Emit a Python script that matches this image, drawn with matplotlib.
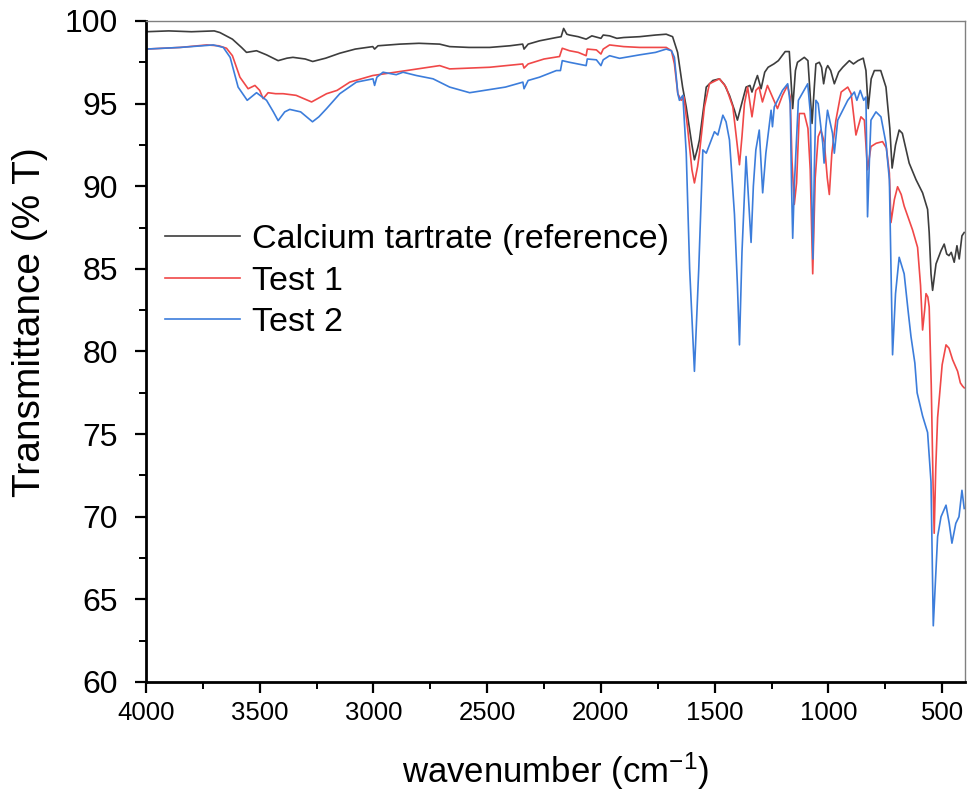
import matplotlib
matplotlib.use('Agg')
import matplotlib.pyplot as plt
from matplotlib.ticker import MultipleLocator

# calcium tartrate reference spectrum
wn_ref = [4000, 3900, 3800, 3700, 3675, 3620, 3580, 3558, 3514, 3470, 3419, 3380, 3354, 3300,
          3267, 3210, 3148, 3080, 3003, 2995, 2980, 2884, 2800, 2709, 2665, 2580, 2489, 2400,
          2344, 2338, 2320, 2270, 2196, 2175, 2164, 2150, 2138, 2100, 2065, 2040, 2000, 1990,
          1962, 1930, 1900, 1830, 1760, 1713, 1685, 1663, 1641, 1625, 1600, 1589, 1575, 1567,
          1537, 1508, 1479, 1457, 1435, 1413, 1400, 1385, 1362, 1345, 1336, 1320, 1312, 1296,
          1280, 1265, 1240, 1220, 1190, 1172, 1157, 1145, 1136, 1106, 1090, 1072, 1062, 1055,
          1040, 1030, 1021, 1010, 1003, 990, 974, 955, 937, 908, 890, 870, 847, 835, 825, 812,
          798, 770, 747, 730, 720, 705, 689, 675, 660, 645, 615, 586, 564, 557, 549, 542, 527,
          505, 491, 480, 470, 460, 447, 435, 425, 413, 403]
t_ref = [99.35, 99.4, 99.35, 99.4, 99.3, 98.9, 98.4, 98.1, 98.2, 97.95, 97.6, 97.75, 97.8, 97.7,
         97.55, 97.75, 98.05, 98.3, 98.45, 98.3, 98.5, 98.6, 98.65, 98.6, 98.45, 98.4, 98.4, 98.5,
         98.6, 98.3, 98.6, 98.8, 99.0, 99.05, 99.55, 99.2, 99.15, 99.05, 98.9, 99.1, 98.95, 99.15,
         99.1, 98.95, 99.0, 99.05, 99.15, 99.2, 99.05, 98.1, 96.0, 94.8, 92.5, 91.6, 92.3, 92.8,
         96.0, 96.4, 96.5, 96.15, 95.5, 94.6, 94.0, 94.8, 96.0, 96.1, 95.7, 96.4, 96.7, 95.9,
         96.9, 97.2, 97.4, 97.6, 98.15, 98.15, 94.7, 97.0, 97.5, 97.8, 97.6, 93.8, 96.0, 97.4,
         97.5, 97.2, 96.2, 97.1, 97.3, 97.0, 96.2, 96.9, 97.2, 97.6, 97.4, 97.6, 97.75, 97.0, 94.7, 96.5,
         97.0, 97.0, 96.0, 93.5, 91.1, 92.5, 93.4, 93.2, 92.3, 91.4, 90.4, 89.6, 88.6, 87.2, 84.7, 83.7, 85.3,
         86.1, 86.5, 85.9, 85.8, 86.0, 85.4, 86.4, 85.6, 87.0, 87.2]

# test 1
wn_t1 = [4000, 3850, 3733, 3680, 3646, 3620, 3587, 3551, 3521, 3500, 3485, 3463, 3430, 3397,
         3340, 3272, 3206, 3160, 3104, 3003, 2855, 2709, 2665, 2489, 2344, 2338, 2320, 2250,
         2182, 2170, 2138, 2100, 2065, 2060, 2020, 2000, 1990, 1962, 1900, 1830, 1713, 1690,
         1677, 1662, 1647, 1635, 1618, 1600, 1589, 1575, 1567, 1545, 1523, 1494, 1479, 1450,
         1420, 1391, 1380, 1369, 1355, 1336, 1319, 1305, 1290, 1268, 1246, 1224, 1202, 1180,
         1168, 1160, 1150, 1140, 1128, 1106, 1090, 1080, 1069, 1058, 1045, 1033, 1018, 1005,
         996, 985, 967, 944, 915, 900, 879, 857, 842, 828, 813, 790, 762, 745, 732, 725, 710,
         696, 680, 667, 630, 608, 595, 586, 577, 571, 563, 557, 548, 540, 535, 528, 520, 513,
         500, 483, 470, 454, 432, 420, 410, 403]
t_t1 = [98.3, 98.4, 98.55, 98.5, 98.35, 97.9, 96.6, 95.9, 96.1, 95.8, 95.3, 95.66, 95.6, 95.6,
        95.5, 95.1, 95.6, 95.8, 96.3, 96.7, 97.0, 97.3, 97.1, 97.2, 97.4, 97.15, 97.4, 97.7,
        97.85, 98.35, 98.2, 98.1, 97.9, 98.3, 98.25, 98.0, 98.3, 98.55, 98.45, 98.4, 98.4, 98.2,
        97.4, 95.6, 95.2, 95.4, 93.4, 91.0, 90.2, 91.2, 92.0, 94.8, 96.2, 96.4, 96.5, 96.0,
        94.8, 91.3, 93.0, 95.0, 96.0, 94.2, 95.8, 96.0, 95.1, 96.1, 95.4, 94.7, 95.5, 96.1,
        95.4, 91.5, 88.9, 90.2, 94.4, 94.4, 93.5, 91.0, 84.7, 90.5, 93.0, 93.4, 92.65, 90.5,
        89.5, 92.0, 94.0, 95.7, 96.0, 95.6, 93.1, 94.2, 94.0, 91.0, 92.4, 92.6, 92.7, 92.3, 90.8, 87.8, 89.2,
        89.97, 89.5, 88.8, 87.35, 86.3, 84.0, 81.3, 82.5, 83.5, 83.3, 82.7, 78.0, 72.0, 69.0, 73.0, 76.0, 77.1,
        79.2, 80.4, 80.2, 79.5, 78.8, 78.1, 77.9, 77.8]

# test 2
wn_t2 = [4000, 3850, 3704, 3660, 3630, 3595, 3555, 3514, 3470, 3440, 3419, 3390, 3368, 3320,
         3268, 3240, 3206, 3148, 3075, 3002, 2995, 2985, 2958, 2900, 2870, 2811, 2738, 2665,
         2577, 2489, 2420, 2343, 2338, 2320, 2270, 2196, 2178, 2170, 2138, 2065, 2060, 2020,
         2000, 1990, 1962, 1918, 1830, 1760, 1713, 1690, 1677, 1662, 1655, 1640, 1625, 1610,
         1589, 1570, 1552, 1537, 1501, 1486, 1464, 1450, 1435, 1413, 1400, 1391, 1380, 1362,
         1350, 1340, 1330, 1319, 1304, 1289, 1275, 1252, 1246, 1238, 1202, 1179, 1168, 1162,
         1157, 1150, 1132, 1091, 1080, 1068, 1062, 1055, 1045, 1025, 1019, 1012, 1004, 982,
         974, 959, 930, 915, 886, 875, 860, 845, 835, 828, 820, 813, 791, 769, 747, 732, 718,
         705, 689, 667, 650, 637, 620, 610, 586, 564, 549, 539, 520, 505, 483, 469, 457, 440,
         426, 413, 403]
t_t2 = [98.3, 98.4, 98.55, 98.4, 97.8, 96.0, 95.2, 95.66, 95.2, 94.5, 93.97, 94.5, 94.65, 94.5,
        93.9, 94.2, 94.7, 95.6, 96.3, 96.5, 96.1, 96.6, 96.9, 96.75, 96.9, 96.7, 96.5, 96.0,
        95.66, 95.85, 96.0, 96.3, 95.9, 96.4, 96.6, 97.0, 97.0, 97.6, 97.5, 97.3, 97.7, 97.65,
        97.3, 97.65, 97.9, 97.74, 97.95, 98.1, 98.3, 98.2, 97.8, 95.6, 95.2, 95.5, 92.0, 85.0,
        78.8, 85.0, 92.2, 92.0, 93.3, 93.1, 94.3, 93.9, 92.8, 88.3, 84.0, 80.4, 86.0, 91.8,
        89.0, 86.6, 90.0, 92.2, 93.4, 89.6, 92.0, 94.6, 93.6, 94.8, 95.8, 96.2, 95.0, 90.0,
        86.85, 90.0, 95.2, 96.2, 94.5, 85.6, 91.0, 95.2, 95.0, 92.6, 91.4, 93.5, 94.6, 93.2,
        92.0, 94.0, 94.8, 95.2, 95.7, 95.2, 95.8, 95.2, 95.4, 88.15, 91.5, 94.0, 94.5, 94.2, 92.6, 90.4, 79.8,
        83.5, 85.7, 84.7, 82.5, 80.9, 79.3, 77.5, 76.1, 75.1, 72.1, 63.4, 68.8, 70.0, 70.7, 69.6, 68.4, 69.6,
        70.0, 71.6, 70.5]

labels = ['Calcium tartrate (reference)', 'Test 1', 'Test 2']

plt.rcParams['font.family'] = ['Liberation Sans', 'DejaVu Sans']
plt.rcParams['mathtext.fontset'] = 'custom'
plt.rcParams['mathtext.rm'] = 'Liberation Sans'
plt.rcParams['mathtext.it'] = 'Liberation Sans:italic'

fig = plt.figure(figsize=(9.68, 7.92), dpi=100)
ax = fig.add_axes([0.1508, 0.1389, 0.846, 0.8346])

ax.plot(wn_ref, t_ref, color='#3d3d3d', lw=1.2, label=labels[0])
ax.plot(wn_t1, t_t1, color='#f04848', lw=1.2, label=labels[1])
ax.plot(wn_t2, t_t2, color='#3c7ddb', lw=1.2, label=labels[2])

ax.set_xlim(4000, 400)
ax.set_ylim(60, 100)
ax.xaxis.set_major_locator(MultipleLocator(500))
ax.xaxis.set_minor_locator(MultipleLocator(250))
ax.yaxis.set_major_locator(MultipleLocator(5))
ax.yaxis.set_minor_locator(MultipleLocator(2.5))

for s in ['left', 'bottom']:
    ax.spines[s].set_linewidth(2)
    ax.spines[s].set_color('black')
for s in ['top', 'right']:
    ax.spines[s].set_linewidth(1)
    ax.spines[s].set_color('#808080')

ax.tick_params(which='major', direction='out', length=8, width=1.6)
ax.tick_params(which='minor', direction='out', length=5, width=1.4)
ax.tick_params(top=False, right=False, which='both')
ax.tick_params(axis='x', labelsize=18.5, pad=6)
ax.tick_params(axis='y', labelsize=23, pad=12)

ax.set_xlabel('wavenumber (cm$^{-1}$)', fontsize=25, labelpad=18)
ax.set_ylabel('Transmittance (% T)', fontsize=28)
ax.yaxis.set_label_coords(-0.12, 0.545)

ax.legend(loc='center left', bbox_to_anchor=(165 / 968, 1 - 281 / 792),
          bbox_transform=fig.transFigure, frameon=False, fontsize=24.5,
          handlelength=2.2, handletextpad=0.36, labelspacing=0.32,
          borderpad=0, borderaxespad=0)

fig.savefig('out.png', dpi=100)
